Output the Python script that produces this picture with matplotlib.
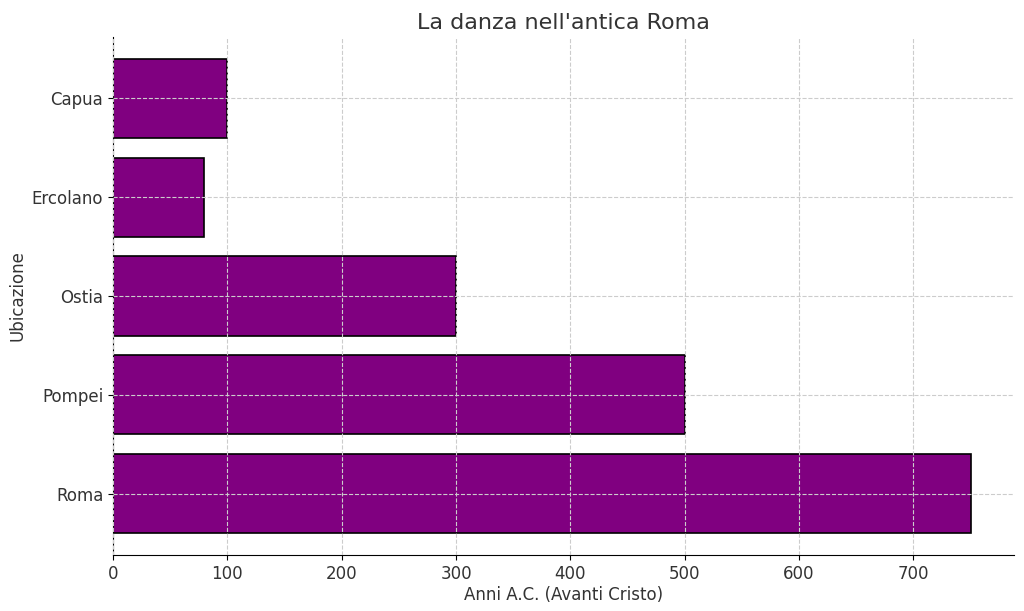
import matplotlib
matplotlib.use("Agg")
import matplotlib.pyplot as plt

locations = ["Roma", "Pompei", "Ostia", "Ercolano", "Capua"]
years = [750, 500, 300, 80, 100]

fig = plt.figure(figsize=(10.24, 6.11), dpi=100)
ax = fig.add_axes([113/1024, 1-555/611, (1014-113)/1024, (555-37)/611])
ax.barh(locations, years, color="#800080", edgecolor="black", linewidth=1.2, height=0.8)
ax.set_xlim(0, 788)
ax.set_ylim(-0.62, 4.62)
ax.grid(True, linestyle="--", color="#cccccc", linewidth=0.8)
ax.set_axisbelow(False)
for s in ["top", "right"]:
    ax.spines[s].set_visible(False)
txt = "#333333"
ax.set_title("La danza nell'antica Roma", fontsize=16, color=txt)
ax.set_xlabel("Anni A.C. (Avanti Cristo)", fontsize=12, color=txt, labelpad=2)
ax.set_ylabel("Ubicazione", fontsize=12, color=txt)
ax.tick_params(labelsize=12, labelcolor=txt)
fig.savefig("out.png", dpi=100)
